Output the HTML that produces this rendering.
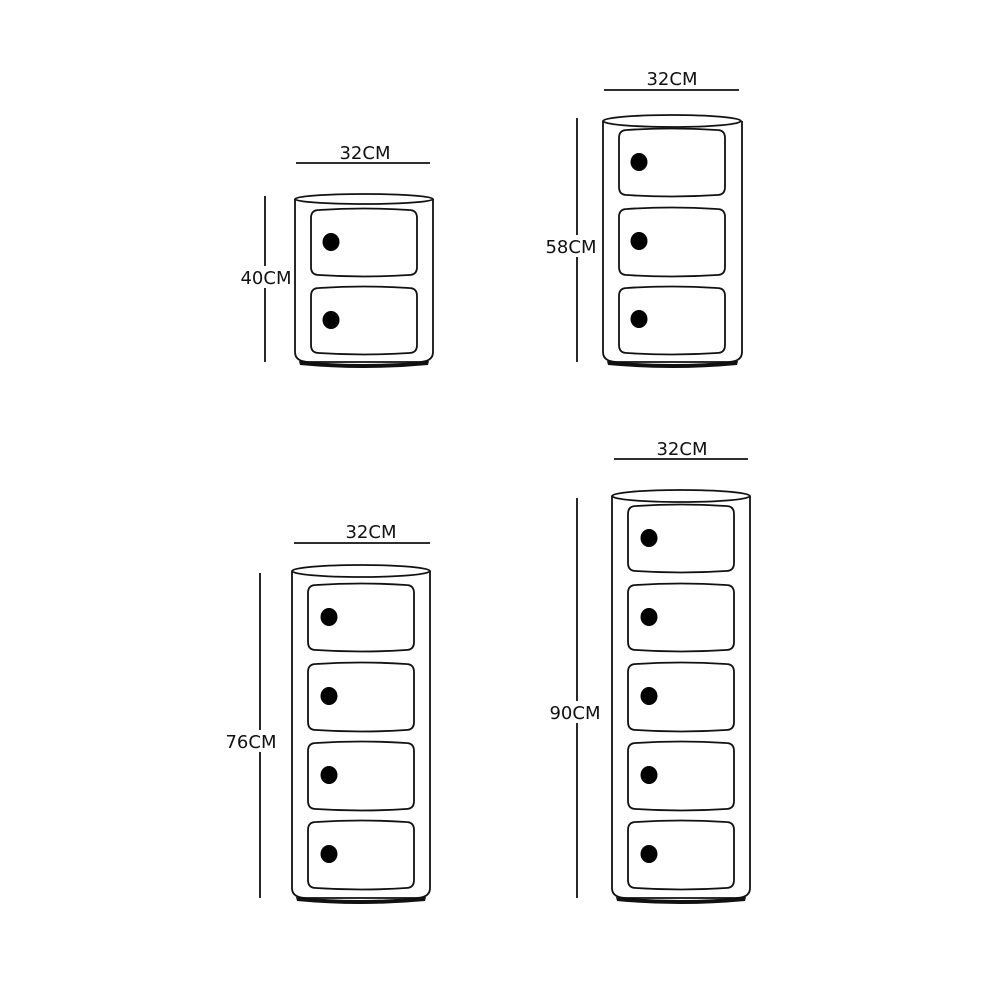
<!DOCTYPE html>
<html><head><meta charset="utf-8"><style>
html,body{margin:0;padding:0;background:#fff;}
svg{display:block}
text{font-family:"DejaVu Sans","Liberation Sans",sans-serif;font-size:18px;fill:#111;}
</style></head><body>
<svg width="1000" height="1000" viewBox="0 0 1000 1000" xmlns="http://www.w3.org/2000/svg">
<g fill="none" stroke="#111" stroke-width="1.8">
<line x1="296" y1="163" x2="430" y2="163"/>
<line x1="265" y1="196" x2="265" y2="362"/>
<ellipse cx="364" cy="199" rx="69" ry="5"/>
<path d="M295 199 L295 352 Q295 362 310 362 L418 362 Q433 362 433 352 L433 199"/>
<path d="M311 218 Q311 210 319 210 Q364 207 409 210 Q417 210 417 218 L417 267 Q417 275 409 275 Q364 278 319 275 Q311 275 311 267 Z"/>
<path d="M311 296 Q311 288 319 288 Q364 285 409 288 Q417 288 417 296 L417 345 Q417 353 409 353 Q364 356 319 353 Q311 353 311 345 Z"/>
<line x1="604" y1="90" x2="739" y2="90"/>
<line x1="577" y1="118" x2="577" y2="362"/>
<ellipse cx="672" cy="121" rx="69" ry="6"/>
<path d="M603 121 L603 352 Q603 362 618 362 L727 362 Q742 362 742 352 L742 121"/>
<path d="M619 138 Q619 130 627 130 Q672 127 717 130 Q725 130 725 138 L725 187 Q725 195 717 195 Q672 198 627 195 Q619 195 619 187 Z"/>
<path d="M619 217 Q619 209 627 209 Q672 206 717 209 Q725 209 725 217 L725 267 Q725 275 717 275 Q672 278 627 275 Q619 275 619 267 Z"/>
<path d="M619 296 Q619 288 627 288 Q672 285 717 288 Q725 288 725 296 L725 345 Q725 353 717 353 Q672 356 627 353 Q619 353 619 345 Z"/>
<line x1="294" y1="543" x2="430" y2="543"/>
<line x1="260" y1="573" x2="260" y2="898"/>
<ellipse cx="361" cy="571" rx="69" ry="6"/>
<path d="M292 571 L292 888 Q292 898 307 898 L415 898 Q430 898 430 888 L430 571"/>
<path d="M308 593 Q308 585 316 585 Q361 582 406 585 Q414 585 414 593 L414 642 Q414 650 406 650 Q361 653 316 650 Q308 650 308 642 Z"/>
<path d="M308 672 Q308 664 316 664 Q361 661 406 664 Q414 664 414 672 L414 722 Q414 730 406 730 Q361 733 316 730 Q308 730 308 722 Z"/>
<path d="M308 751 Q308 743 316 743 Q361 740 406 743 Q414 743 414 751 L414 801 Q414 809 406 809 Q361 812 316 809 Q308 809 308 801 Z"/>
<path d="M308 830 Q308 822 316 822 Q361 819 406 822 Q414 822 414 830 L414 880 Q414 888 406 888 Q361 891 316 888 Q308 888 308 880 Z"/>
<line x1="614" y1="459" x2="748" y2="459"/>
<line x1="577" y1="498" x2="577" y2="898"/>
<ellipse cx="681" cy="496" rx="69" ry="6"/>
<path d="M612 496 L612 888 Q612 898 627 898 L735 898 Q750 898 750 888 L750 496"/>
<path d="M628 514 Q628 506 636 506 Q681 503 726 506 Q734 506 734 514 L734 563 Q734 571 726 571 Q681 574 636 571 Q628 571 628 563 Z"/>
<path d="M628 593 Q628 585 636 585 Q681 582 726 585 Q734 585 734 593 L734 642 Q734 650 726 650 Q681 653 636 650 Q628 650 628 642 Z"/>
<path d="M628 672 Q628 664 636 664 Q681 661 726 664 Q734 664 734 672 L734 722 Q734 730 726 730 Q681 733 636 730 Q628 730 628 722 Z"/>
<path d="M628 751 Q628 743 636 743 Q681 740 726 743 Q734 743 734 751 L734 801 Q734 809 726 809 Q681 812 636 809 Q628 809 628 801 Z"/>
<path d="M628 830 Q628 822 636 822 Q681 819 726 822 Q734 822 734 830 L734 880 Q734 888 726 888 Q681 891 636 888 Q628 888 628 880 Z"/>
</g>
<g fill="#111">
<path d="M299 361 Q364 367 429 361 L428 365 Q364 371 300 365 Z"/>
<path d="M607 361 Q672 367 738 361 L737 365 Q672 371 608 365 Z"/>
<path d="M296 897 Q361 903 426 897 L425 901 Q361 907 297 901 Z"/>
<path d="M616 897 Q681 903 746 897 L745 901 Q681 907 617 901 Z"/>
</g>
<g fill="#000">
<ellipse cx="331" cy="242" rx="8.5" ry="9"/><ellipse cx="331" cy="320" rx="8.5" ry="9"/>
<ellipse cx="639" cy="162" rx="8.5" ry="9"/><ellipse cx="639" cy="241" rx="8.5" ry="9"/><ellipse cx="639" cy="319" rx="8.5" ry="9"/>
<ellipse cx="329" cy="617" rx="8.5" ry="9"/><ellipse cx="329" cy="696" rx="8.5" ry="9"/><ellipse cx="329" cy="775" rx="8.5" ry="9"/><ellipse cx="329" cy="854" rx="8.5" ry="9"/>
<ellipse cx="649" cy="538" rx="8.5" ry="9"/><ellipse cx="649" cy="617" rx="8.5" ry="9"/><ellipse cx="649" cy="696" rx="8.5" ry="9"/><ellipse cx="649" cy="775" rx="8.5" ry="9"/><ellipse cx="649" cy="854" rx="8.5" ry="9"/>
</g>
<g fill="#fff">
<rect x="239" y="266" width="54" height="22"/>
<rect x="545" y="235" width="51" height="22"/>
<rect x="225" y="730" width="51" height="22"/>
<rect x="548" y="701" width="53" height="22"/>
</g>
<text x="365" y="159" text-anchor="middle">32CM</text>
<text x="672" y="85" text-anchor="middle">32CM</text>
<text x="371" y="538" text-anchor="middle">32CM</text>
<text x="682" y="455" text-anchor="middle">32CM</text>
<text x="266" y="284" text-anchor="middle">40CM</text>
<text x="571" y="253" text-anchor="middle">58CM</text>
<text x="251" y="748" text-anchor="middle">76CM</text>
<text x="575" y="719" text-anchor="middle">90CM</text>
</svg>
</body></html>
